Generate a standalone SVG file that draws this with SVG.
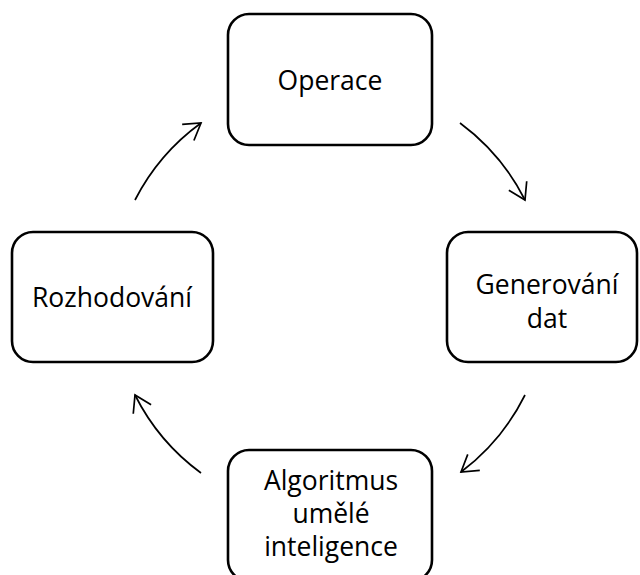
<svg xmlns="http://www.w3.org/2000/svg" width="640" height="575" viewBox="0 0 640 575">
<style>
.box{fill:#fff;stroke:#000;stroke-width:2.6}
.lbl{font-family:"Open Sans","Liberation Sans",sans-serif;font-size:26.5px;fill:#000;text-anchor:middle}
.arc{fill:none;stroke:#000;stroke-width:1.7;marker-end:url(#ah)}
</style>
<defs>
<marker id="ah" markerUnits="userSpaceOnUse" markerWidth="24" markerHeight="24" refX="0" refY="0" viewBox="-20 -12 24 24" orient="auto" overflow="visible">
<path d="M-16,-10 L0,0 L-16,10" fill="none" stroke="#000" stroke-width="1.7"/>
</marker>
</defs>
<rect width="640" height="575" fill="#fff"/>
<g id="connectors">
<path class="arc" d="M460,123 A218,218 0 0,1 525,200"/>
<path class="arc" d="M525,395 A218,218 0 0,1 461,472"/>
<path class="arc" d="M201,473 A218,218 0 0,1 135,395"/>
<path class="arc" d="M135,200 A218,218 0 0,1 201,123"/>
</g>
<g id="operace">
<rect class="box" x="228" y="14" width="204" height="131" rx="21"/>
<text class="lbl" x="330" y="90">Operace</text>
</g>
<g id="generovani">
<rect class="box" x="447" y="232" width="190" height="130" rx="21"/>
<text class="lbl" x="547" y="294">Generování</text>
<text class="lbl" x="547" y="328">dat</text>
</g>
<g id="algoritmus">
<rect class="box" x="228" y="450" width="204" height="131" rx="21"/>
<text class="lbl" x="331" y="490">Algoritmus</text>
<text class="lbl" x="331" y="523">umělé</text>
<text class="lbl" x="331" y="556">inteligence</text>
</g>
<g id="rozhodovani">
<rect class="box" x="12" y="232" width="201" height="130" rx="21"/>
<text class="lbl" x="112" y="307">Rozhodování</text>
</g>
</svg>
